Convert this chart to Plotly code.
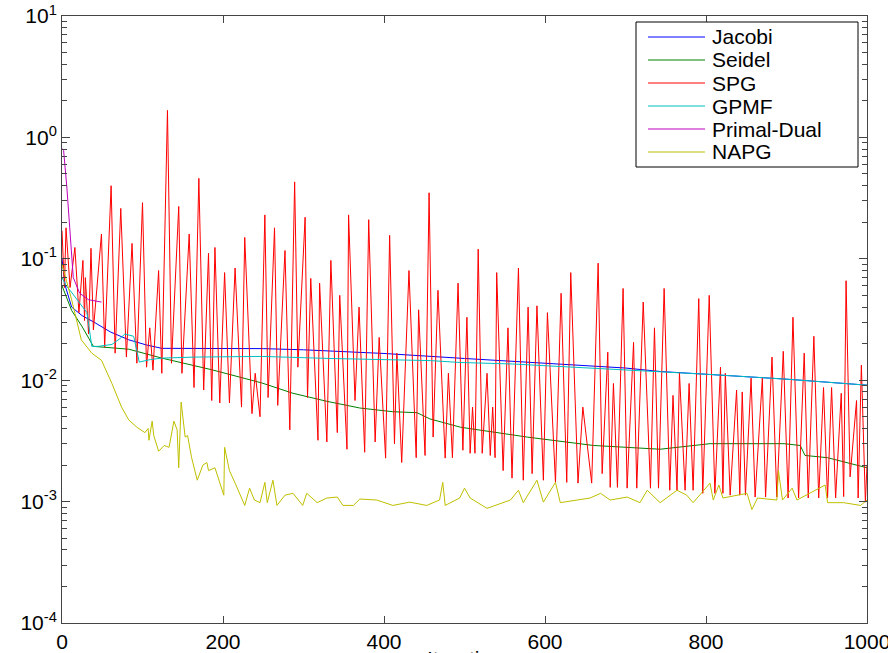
import plotly.graph_objects as go

# ---------------- data ----------------
jacobi_x = [0, 4, 12, 25, 40, 60, 83, 105, 124, 200, 250, 300, 400, 500, 600, 700, 743, 800, 900, 1000]
jacobi_y = [0.1, 0.06, 0.040, 0.034, 0.030, 0.025, 0.0215, 0.0195, 0.0183, 0.0183, 0.0182, 0.0178,
            0.0166, 0.0151, 0.0138, 0.0126, 0.0118, 0.0112, 0.0102, 0.0091]

seidel_x = [0, 12, 25, 39, 83, 124, 186, 248, 287, 329, 370, 411, 441, 457, 495, 578, 660, 743,
            805, 846, 897, 917, 923, 951, 1000]
seidel_y = [0.06, 0.0375, 0.0276, 0.019, 0.018, 0.0152, 0.0122, 0.0095, 0.0078, 0.0067, 0.0059,
            0.0055, 0.0054, 0.0048, 0.0041, 0.0034, 0.0029, 0.0027, 0.0030, 0.0030, 0.0030,
            0.0029, 0.0024, 0.0023, 0.0019]

spg_x = [0, 3, 5, 10, 16, 21, 26, 28, 29, 33, 36, 39, 49, 53, 61, 66, 73, 80, 87, 93, 100, 105,
         109, 113, 120, 124, 131, 136, 145, 149, 158, 164, 170, 176, 182, 186, 190, 196, 202, 208,
         215, 223, 227, 236, 240, 246, 252, 256, 264, 268, 277, 283, 289, 293, 302, 305, 309, 318,
         320, 329, 334, 342, 345, 354, 356, 364, 369, 376, 381, 389, 394, 402, 407, 413, 416, 422,
         431, 440, 443, 451, 456, 461, 467, 476, 480, 485, 492, 498, 503, 507, 510, 513, 517, 522,
         528, 532, 535, 538, 540, 548, 554, 559, 567, 573, 579, 584, 590, 598, 603, 613, 620, 627,
         632, 641, 647, 658, 666, 671, 678, 681, 685, 690, 697, 702, 710, 714, 722, 731, 736, 741,
         748, 755, 759, 764, 767, 774, 779, 784, 791, 796, 804, 811, 818, 821, 824, 830, 838, 842,
         845, 849, 856, 861, 870, 874, 882, 888, 896, 902, 908, 915, 922, 927, 934, 940, 946, 951,
         956, 961, 968, 971, 974, 979, 987, 989, 993, 998, 1000]
spg_y = [0.17, 0.058, 0.18, 0.058, 0.124, 0.036, 0.097, 0.031, 0.070, 0.024, 0.122, 0.026, 0.16,
         0.0187, 0.40, 0.0167, 0.26, 0.0155, 0.134, 0.0138, 0.29, 0.0128, 0.027, 0.0121, 0.080,
         0.0114, 1.67, 0.0138, 0.27, 0.0114, 0.16, 0.0087, 0.46, 0.0083, 0.111, 0.0068, 0.124,
         0.0065, 0.077, 0.0065, 0.084, 0.0060, 0.15, 0.0053, 0.0114, 0.0050, 0.23, 0.0072, 0.18,
         0.0062, 0.117, 0.0039, 0.43, 0.0128, 0.22, 0.0072, 0.069, 0.0032, 0.063, 0.0031, 0.097,
         0.0037, 0.050, 0.0027, 0.23, 0.0068, 0.040, 0.00255, 0.21, 0.0031, 0.0225, 0.00228,
         0.156, 0.0030, 0.0167, 0.0021, 0.080, 0.0023, 0.038, 0.0024, 0.35, 0.0034, 0.055,
         0.00228, 0.0114, 0.0023, 0.063, 0.00265, 0.033, 0.0025, 0.006, 0.0025, 0.12, 0.0025,
         0.0114, 0.0024, 0.0060, 0.0023, 0.077, 0.0018, 0.027, 0.00156, 0.084, 0.0015, 0.040,
         0.0017, 0.041, 0.0015, 0.036, 0.00144, 0.052, 0.00144, 0.077, 0.00142, 0.0060, 0.00142,
         0.092, 0.0017, 0.017, 0.00131, 0.0094, 0.00131, 0.057, 0.00129, 0.0205, 0.00129, 0.044,
         0.00129, 0.027, 0.00129, 0.057, 0.00124, 0.0075, 0.00124, 0.0116, 0.00124, 0.0094,
         0.00124, 0.047, 0.00117, 0.050, 0.00117, 0.0128, 0.00117, 0.0114, 0.00113, 0.0083,
         0.00113, 0.0080, 0.00113, 0.0104, 0.00109, 0.0104, 0.00109, 0.0155, 0.00109, 0.0173,
         0.00107, 0.033, 0.00107, 0.0167, 0.00107, 0.023, 0.00107, 0.0087, 0.00107, 0.0087,
         0.00107, 0.0078, 0.0011, 0.066, 0.0016, 0.0068, 0.00107, 0.0133, 0.00099, 0.002]

gpmf_x = [0, 5, 10, 20, 31, 37, 45, 62, 72, 78, 89, 96, 110, 124, 165, 248, 333, 458, 494, 560,
          656, 743, 800, 900, 1000]
gpmf_y = [0.07, 0.06, 0.055, 0.045, 0.036, 0.019, 0.019, 0.0197, 0.022, 0.024, 0.023, 0.0141,
          0.0148, 0.0152, 0.0155, 0.0157, 0.0151, 0.0145, 0.0140, 0.0136, 0.0126, 0.0118, 0.0112,
          0.0102, 0.0091]

pd_x = [0, 2, 6, 10, 14, 22, 33, 49]
pd_y = [0.81, 0.78, 0.39, 0.16, 0.07, 0.052, 0.046, 0.044]

napg_x = [0, 12, 24, 37, 49, 62, 74, 83, 93, 103, 107, 108, 112, 114, 120, 127, 133, 139, 143,
          145, 148, 153, 156, 161, 168, 175, 180, 182, 190, 201, 202, 208, 215, 227, 233, 239,
          246, 252, 255, 262, 267, 277, 287, 299, 304, 317, 329, 342, 349, 362, 370, 391, 411,
          432, 453, 469, 473, 476, 494, 500, 507, 528, 557, 567, 573, 590, 598, 613, 619, 656,
          669, 681, 702, 718, 727, 743, 764, 776, 784, 805, 809, 816, 821, 851, 857, 864, 888,
          890, 895, 907, 913, 948, 951, 971, 992, 1000]
napg_y = [0.09, 0.046, 0.0215, 0.0167, 0.0146, 0.0094, 0.0060, 0.0047, 0.0041, 0.0037, 0.0040,
          0.0032, 0.0046, 0.0035, 0.0026, 0.0029, 0.0028, 0.0046, 0.0039, 0.0019, 0.0066, 0.0034,
          0.0035, 0.0023, 0.0015, 0.0020, 0.0021, 0.0018, 0.0019, 0.00113, 0.0028, 0.0018,
          0.00142, 0.00093, 0.00129, 0.00103, 0.00098, 0.00144, 0.00098, 0.0015, 0.00093,
          0.00113, 0.00117, 0.00093, 0.00117, 0.00098, 0.00107, 0.00109, 0.00093, 0.00093,
          0.00105, 0.00103, 0.00093, 0.00099, 0.00093, 0.00103, 0.00144, 0.00093, 0.00107,
          0.00129, 0.00107, 0.00088, 0.00103, 0.00124, 0.00098, 0.0015, 0.00099, 0.00144,
          0.00098, 0.00107, 0.00117, 0.00103, 0.00109, 0.00098, 0.00124, 0.00098, 0.00124,
          0.00113, 0.00098, 0.00142, 0.00103, 0.00137, 0.00107, 0.00117, 0.00086, 0.00107,
          0.00103, 0.0018, 0.00103, 0.00129, 0.00103, 0.00137, 0.00098, 0.00098, 0.00093, 0.00103]

x_ticks = [0, 200, 400, 600, 800, 1000]
y_ticks = [1e-4, 1e-3, 1e-2, 1e-1, 1e0, 1e1]
y_tick_text = ["10<sup>-4</sup>", "10<sup>-3</sup>", "10<sup>-2</sup>", "10<sup>-1</sup>",
               "10<sup>0</sup>", "10<sup>1</sup>"]
x_title = "Iteration"

series_names = ["Jacobi", "Seidel", "SPG", "GPMF", "Primal-Dual", "NAPG"]
series_x = [jacobi_x, seidel_x, spg_x, gpmf_x, pd_x, napg_x]
series_y = [jacobi_y, seidel_y, spg_y, gpmf_y, pd_y, napg_y]
series_colors = ["rgb(0,0,255)", "rgb(0,128,0)", "rgb(255,0,0)", "rgb(0,191,191)",
                 "rgb(191,0,191)", "rgb(191,191,0)"]

# ---------------- layout geometry ----------------
W, H = 888, 653
ML, MR, MT, MB = 62, 21, 16, 30
PW, PH = W - ML - MR, H - MT - MB


def px_to_paper(px, py):
    return (px - ML) / PW, 1 - (py - MT) / PH


axis_col = "#444444"
font_fam = "Liberation Sans, Arial, Helvetica, sans-serif"

fig = go.Figure()
for name, xs, ys, col in zip(series_names, series_x, series_y, series_colors):
    fig.add_trace(go.Scatter(x=xs, y=ys, mode="lines", name=name,
                             line=dict(color=col, width=1), showlegend=False))

# legend drawn as a MATLAB-style boxed legend
shapes = []
annotations = []
bx0, by0 = px_to_paper(636, 22)
bx1, by1 = px_to_paper(858, 167)
shapes.append(dict(type="rect", xref="paper", yref="paper", x0=bx0, y0=by1, x1=bx1, y1=by0,
                   line=dict(color="black", width=1), fillcolor="white", layer="above"))
row_y = [37, 60, 83, 106, 129, 152]
for name, col, ry in zip(series_names, series_colors, row_y):
    lx0, ly = px_to_paper(648, ry)
    lx1, _ = px_to_paper(705, ry)
    shapes.append(dict(type="line", xref="paper", yref="paper", x0=lx0, x1=lx1, y0=ly, y1=ly,
                       line=dict(color=col, width=1), layer="above"))
    tx, _ = px_to_paper(711, ry)
    annotations.append(dict(text=name, xref="paper", yref="paper", x=tx, y=ly,
                            xanchor="left", yanchor="middle", showarrow=False, borderpad=0,
                            font=dict(size=21, family=font_fam, color="black")))

# x-axis title: sits just below the tick labels, mostly outside the picture as in the reference
_, ty = px_to_paper(0, 645)
annotations.append(dict(text=x_title, xref="paper", yref="paper", x=0.5, y=ty,
                        xanchor="center", yanchor="top", showarrow=False,
                        font=dict(size=21, family=font_fam, color="black")))

minor_y = []
for d in range(-4, 1):
    for m in range(2, 10):
        minor_y.append(m * 10.0 ** d)

fig.update_layout(
    width=W, height=H,
    margin=dict(l=ML, r=MR, t=MT, b=MB),
    paper_bgcolor="white", plot_bgcolor="white",
    font=dict(family=font_fam, size=21, color="black"),
    showlegend=False,
    shapes=shapes,
    annotations=annotations,
    xaxis=dict(range=[0, 1000], tickvals=x_ticks, ticks="inside", ticklen=7,
               tickcolor=axis_col, showline=True, linecolor=axis_col, linewidth=1,
               mirror="ticks", showgrid=False, zeroline=False, automargin=False,
               ticklabeloverflow="allow",
               tickfont=dict(size=21, family=font_fam, color="black")),
    yaxis=dict(type="log", range=[-4, 1], tickvals=y_ticks, ticktext=y_tick_text,
               ticks="inside", ticklen=8, tickcolor=axis_col, showline=True,
               linecolor=axis_col, linewidth=1, mirror="ticks", showgrid=False,
               zeroline=False, automargin=False, ticklabeloverflow="allow",
               tickfont=dict(size=21, family=font_fam, color="black"),
               minor=dict(tickvals=minor_y, ticks="inside", ticklen=5, tickcolor=axis_col,
                          showgrid=False)),
)

fig.write_html("out.html", config={"displayModeBar": False},
               post_script="document.body.style.margin='0';document.body.style.padding='0';")
